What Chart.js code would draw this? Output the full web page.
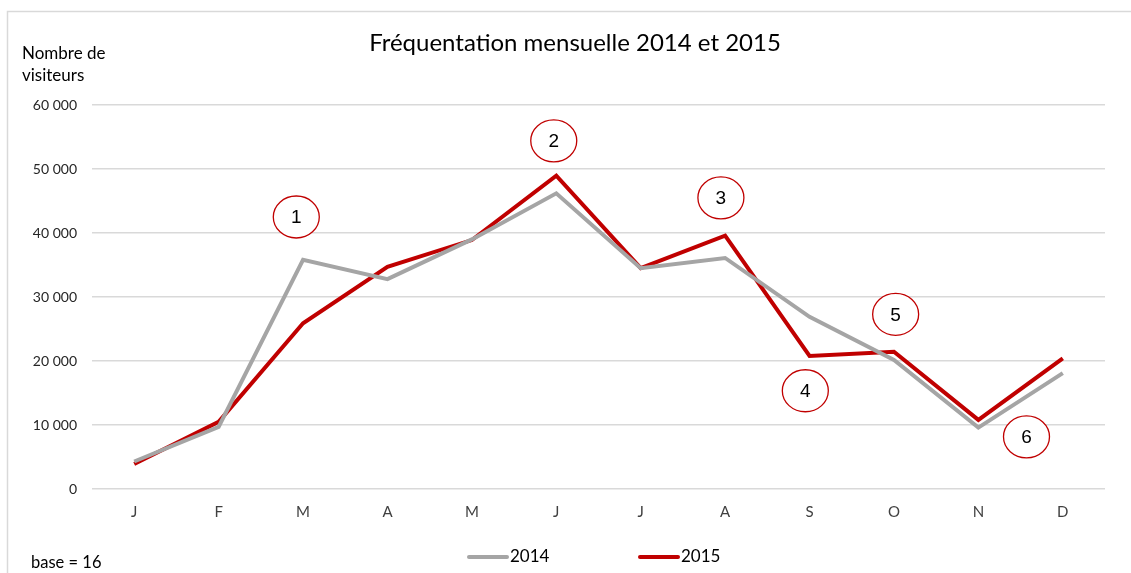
<!DOCTYPE html>
<html>
<head>
<meta charset="utf-8">
<script src="https://cdn.jsdelivr.net/npm/chart.js@4.4.1/dist/chart.umd.min.js"></script>
<style>
  body { margin: 0; background: #fff; }
  canvas { display: block; }
</style>
</head>
<body>
<canvas id="myChart" width="1131" height="573"></canvas>
<script>
// data
const months = ['J', 'F', 'M', 'A', 'M', 'J', 'J', 'A', 'S', 'O', 'N', 'D'];
const visitors2014 = [4300, 9700, 35800, 32800, 39000, 46200, 34500, 36100, 26900, 20150, 9600, 18100];
const visitors2015 = [3900, 10500, 25900, 34700, 38900, 48950, 34500, 39600, 20800, 21450, 10800, 20400];
const yTicks = [0, 10000, 20000, 30000, 40000, 50000, 60000];

// numbered circles: label, month index, value
const markLabels = ['1', '2', '3', '4', '5', '6'];
const markMonth = [1.92, 4.97, 6.95, 7.95, 9.02, 10.57];
const markValue = [42500, 54400, 45500, 15350, 27300, 8150];

const fmt = v => v === 0 ? '0' : String(v).replace(/\B(?=(\d{3})+(?!\d))/g, ' ');

const extras = {
    id: 'extras',
    beforeDraw(chart) {
        const ctx = chart.ctx;
        ctx.save();
        ctx.strokeStyle = '#d9d9d9';
        ctx.lineWidth = 1.5;
        ctx.beginPath();
        ctx.moveTo(7.5, 600);
        ctx.lineTo(7.5, 11.5);
        ctx.lineTo(1140, 11.5);
        ctx.stroke();
        ctx.restore();
    },
    afterDatasetsDraw(chart) {
        const ctx = chart.ctx;
        const x = chart.scales.x, y = chart.scales.y;
        ctx.save();
        markLabels.forEach((label, i) => {
            const cx = x.getPixelForValue(markMonth[i]);
            const cy = y.getPixelForValue(markValue[i]);
            ctx.beginPath();
            ctx.ellipse(cx, cy, 23, 21, 0, 0, Math.PI * 2);
            ctx.fillStyle = '#fff';
            ctx.fill();
            ctx.strokeStyle = '#c00000';
            ctx.lineWidth = 1.3;
            ctx.stroke();
            ctx.fillStyle = '#000';
            ctx.font = '19px "Liberation Sans"';
            ctx.textAlign = 'center';
            ctx.textBaseline = 'middle';
            ctx.fillText(label, cx, cy + 1);
        });
        ctx.restore();
    },
    afterDraw(chart) {
        const ctx = chart.ctx;
        ctx.save();
        ctx.fillStyle = '#000';
        ctx.textBaseline = 'middle';

        ctx.textAlign = 'center';
        ctx.font = '24px Lato';
        ctx.fillText('Fréquentation mensuelle 2014 et 2015', 575, 43);

        ctx.textAlign = 'left';
        ctx.font = '17px Lato';
        ctx.fillText('Nombre de', 22, 54);
        ctx.fillText('visiteurs', 22, 76);
        ctx.font = '16.5px Lato';
        ctx.fillText('base = 16', 31, 563);

        // legend
        const starts = [469, 640];
        chart.data.datasets.forEach((ds, i) => {
            ctx.strokeStyle = ds.borderColor;
            ctx.lineWidth = 4;
            ctx.lineCap = 'round';
            ctx.beginPath();
            ctx.moveTo(starts[i], 557);
            ctx.lineTo(starts[i] + 38, 557);
            ctx.stroke();
            ctx.fillStyle = '#000';
            ctx.font = '17px Lato';
            ctx.fillText(ds.label, starts[i] + 41, 557);
        });
        ctx.restore();
    }
};

new Chart(document.getElementById('myChart'), {
    type: 'line',
    data: {
        labels: months,
        datasets: [
            { label: '2014', data: visitors2014, borderColor: '#a5a5a5', backgroundColor: '#a5a5a5', borderWidth: 4 },
            { label: '2015', data: visitors2015, borderColor: '#c00000', backgroundColor: '#c00000', borderWidth: 4 }
        ]
    },
    options: {
        responsive: false,
        animation: false,
        elements: { point: { radius: 0 }, line: { tension: 0, borderJoinStyle: 'miter' } },
        layout: { padding: { left: 20, right: 26, top: 105, bottom: 0 } },
        plugins: {
            legend: { display: false },
            tooltip: { enabled: false },
            title: { display: false }
        },
        scales: {
            x: {
                offset: true,
                grid: { display: false, drawTicks: false },
                border: { display: false },
                ticks: { color: '#404040', font: { family: 'Lato', size: 15 }, padding: 14 },
                afterFit: s => { s.height = 84; }
            },
            y: {
                min: 0,
                max: 60000,
                afterBuildTicks: s => { s.ticks = yTicks.map(v => ({ value: v })); },
                grid: { color: '#d9d9d9', lineWidth: 1.5, drawTicks: false },
                border: { display: false },
                ticks: { color: '#262626', font: { family: 'Lato', size: 14 }, padding: 15, callback: v => fmt(v) },
                afterFit: s => { s.width = 72; }
            }
        }
    },
    plugins: [extras]
});
</script>
</body>
</html>
